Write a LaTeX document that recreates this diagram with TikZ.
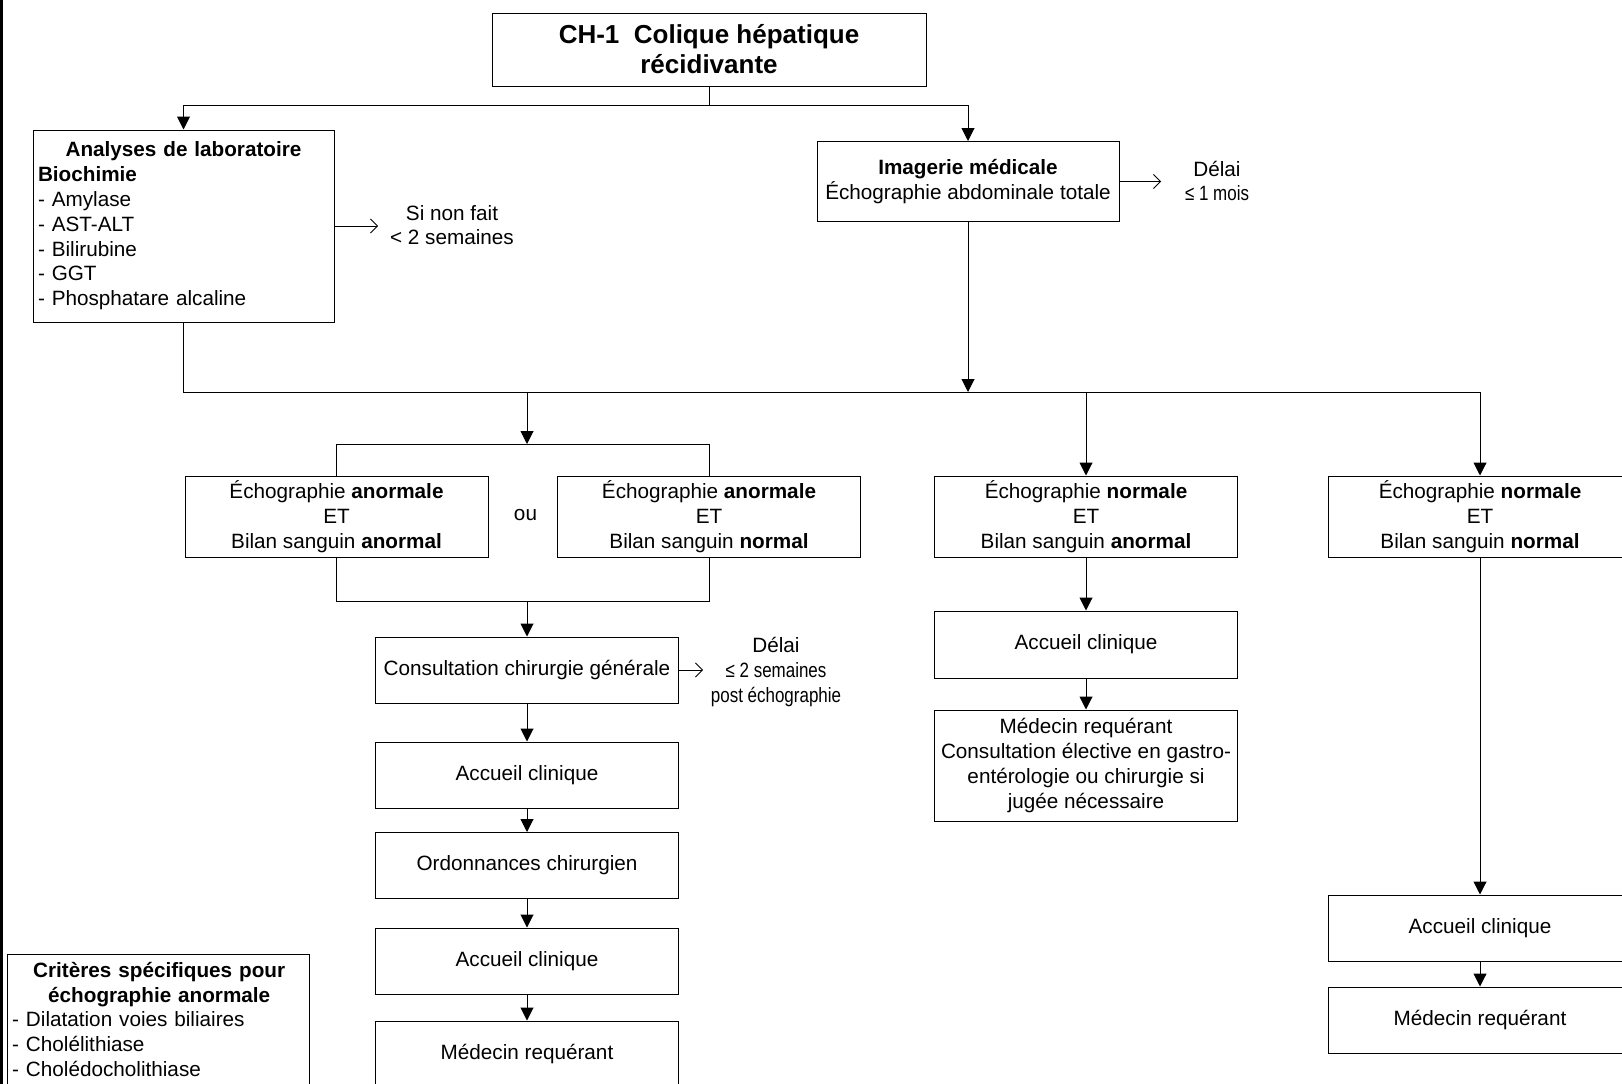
\documentclass[tikz,border=0pt]{standalone}
\usepackage{fontspec}
\setmainfont{Liberation Sans}
\newfontfamily\narrowfont[FakeStretch=0.82]{Liberation Sans}
\usetikzlibrary{arrows.meta}
\begin{document}
\begin{tikzpicture}[x=1pt,y=-1pt,
  font=\fontsize{20.7}{24.8}\selectfont,
  box/.style={draw, line width=1pt, inner sep=0pt, align=center, minimum width=303pt},
  arr/.style={line width=1pt, -{Triangle[length=13pt,width=13pt]}},
  oarr/.style={line width=0.8pt, -{Straight Barb[length=7pt,width=14pt]}},
  ln/.style={line width=1pt},
  lbl/.style={inner sep=0pt, align=center}]
\useasboundingbox (0,0) rectangle (1622,1084);
\clip (0,0) rectangle (1622,1084);
\fill[white] (0,0) rectangle (1622,1084);
\draw[line width=3pt] (1.5,0) -- (1.5,1084);

% nodes
\node[box, minimum width=434pt, minimum height=73pt, font=\fontsize{26}{30}\selectfont\bfseries] (title) at (709,49.5) {CH-1\ \ Colique hépatique\\récidivante};
\node[box, minimum width=301pt, minimum height=192pt, text width=291pt, align=left] (ana) at (183.5,226)
  {\makebox[291pt]{\bfseries Analyses de laboratoire}\\\textbf{Biochimie}\\- Amylase\\- AST-ALT\\- Bilirubine\\- GGT\\- Phosphatare alcaline};
\node[box, minimum width=302pt, minimum height=80pt] (img) at (968,181.5) {\textbf{Imagerie médicale}\\Échographie abdominale totale};

\node[box, minimum height=81pt] (boxA) at (336.5,516.5) {Échographie \textbf{anormale}\\ET\\Bilan sanguin \textbf{anormal}};
\node[box, minimum height=81pt] (boxB) at (709,516.5) {Échographie \textbf{anormale}\\ET\\Bilan sanguin \textbf{normal}};
\node[box, minimum height=81pt] (boxC) at (1086,516.5) {Échographie \textbf{normale}\\ET\\Bilan sanguin \textbf{anormal}};
\node[box, minimum height=81pt] (boxD) at (1480,516.5) {Échographie \textbf{normale}\\ET\\Bilan sanguin \textbf{normal}};
\node[lbl] (ou) at (525.5,515) {ou};

\node[box, minimum height=66pt] (cons) at (527,670) {Consultation chirurgie générale};
\node[box, minimum height=66pt] (acc1) at (527,775) {Accueil clinique};
\node[box, minimum height=66pt] (ord) at (527,865.5) {Ordonnances chirurgien};
\node[box, minimum height=66pt] (acc2) at (527,961) {Accueil clinique};
\node[box, minimum height=66pt] (med1) at (527,1054) {Médecin requérant};

\node[box, minimum height=67pt] (accC) at (1086,644.5) {Accueil clinique};
\node[box, minimum height=111pt] (medC) at (1086,765.5) {Médecin requérant\\Consultation élective en gastro-\\entérologie ou chirurgie si\\jugée nécessaire};

\node[box, minimum height=66pt] (accD) at (1480,928) {Accueil clinique};
\node[box, minimum height=66pt] (medD) at (1480,1020) {Médecin requérant};

\node[draw, line width=1pt, inner sep=0pt, anchor=north west, minimum width=302pt, minimum height=140pt] (crit) at (7,954) {};
\node[inner sep=0pt, anchor=north west, text width=294pt, align=left] (crittxt) at (12,962)
  {\makebox[294pt]{\bfseries Critères spécifiques pour}\\\makebox[294pt]{\bfseries échographie anormale}\\- Dilatation voies biliaires\\- Cholélithiase\\- Cholédocholithiase};

% side labels
\node[lbl] (sinon) at (452,225) {Si non fait\\< 2 semaines};
\node[lbl] (delai1) at (1217,181) {Délai\\{\narrowfont ≤ 1 mois}};
\node[lbl] (delai2) at (776,672) {Délai\\{\narrowfont ≤ 2 semaines}\\{\narrowfont post échographie}};

% coordinates
\coordinate (t1) at (709,105);
\coordinate (b1) at (0,392);
\coordinate (bAB) at (527,392);
\coordinate (brk) at (527,444);
\coordinate (brk2) at (527,601);
\coordinate (sa) at (378,226);
\coordinate (sb) at (1161,181.5);
\coordinate (sc) at (703,670);

% connectors
\draw[ln] (title.south) -- (t1);
\draw[arr] (t1) -| (ana.north);
\draw[arr] (t1) -| (img.north);
\draw[oarr] (ana.east) -- (sa);
\draw[oarr] (img.east) -- (sb);

\draw[ln] (ana.south) -- (ana.south |- b1) -- (boxD.north |- b1);
\draw[arr] (img.south) -- (img.south |- b1);
\draw[arr] (bAB) -- (brk);
\draw[ln] (boxA.north) -- (boxA.north |- brk) -- (boxB.north |- brk) -- (boxB.north);
\draw[arr] (boxC.north |- b1) -- (boxC.north);
\draw[arr] (boxD.north |- b1) -- (boxD.north);

\draw[ln] (boxA.south) -- (boxA.south |- brk2) -- (boxB.south |- brk2) -- (boxB.south);
\draw[arr] (brk2) -- (cons.north);
\draw[oarr] (cons.east) -- (sc);
\draw[arr] (cons.south) -- (acc1.north);
\draw[arr] (acc1.south) -- (ord.north);
\draw[arr] (ord.south) -- (acc2.north);
\draw[arr] (acc2.south) -- (med1.north);

\draw[arr] (boxC.south) -- (accC.north);
\draw[arr] (accC.south) -- (medC.north);
\draw[arr] (boxD.south) -- (accD.north);
\draw[arr] (accD.south) -- (medD.north);
\end{tikzpicture}
\end{document}
